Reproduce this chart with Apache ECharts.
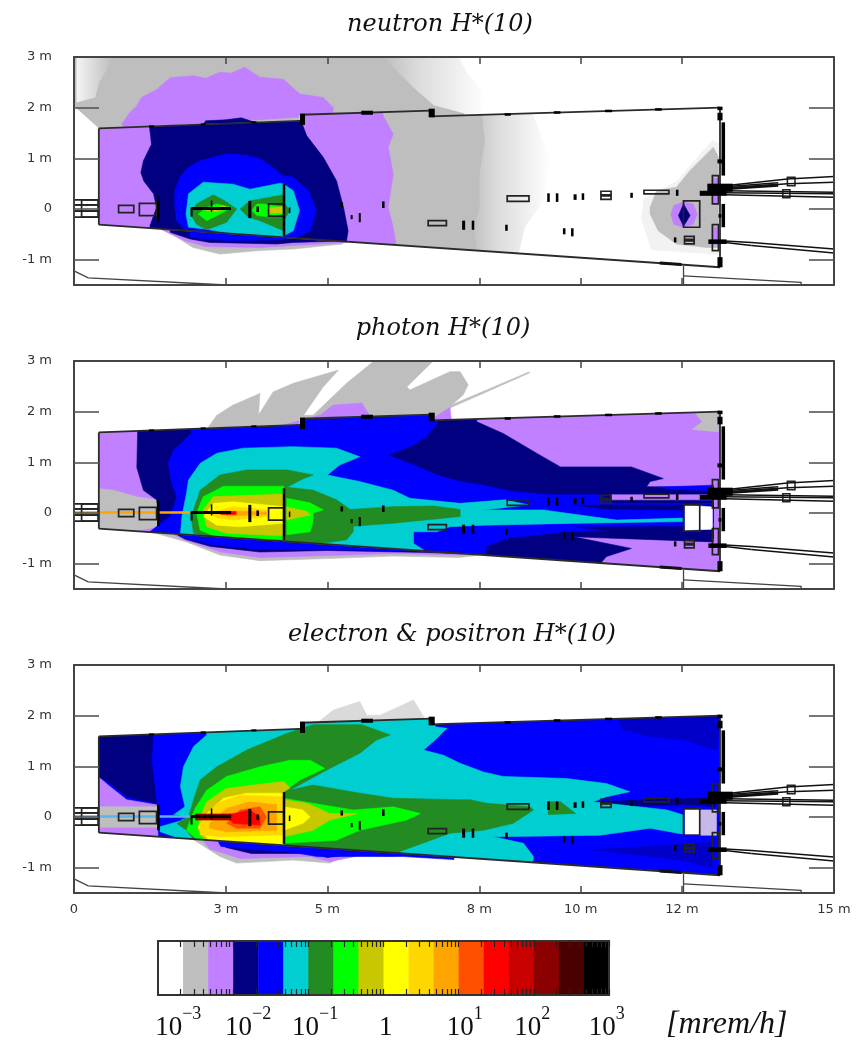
<!DOCTYPE html>
<html><head><meta charset="utf-8">
<style>html,body{margin:0;padding:0;background:#fff}#c{width:861px;height:1041px;filter:blur(0.45px)}</style>
<script src="https://cdn.jsdelivr.net/npm/echarts@6/dist/echarts.min.js"></script>
</head><body><div id="c"></div>
<script>
// ---- colour scale -------------------------------------------------------
const barColors=['#ffffff','#bebebe','#c080ff','#000080','#0000ff','#00ced1','#228b22','#00ff00','#c8c800','#ffff00','#ffd700','#ffa500','#ff5000','#ff0000','#c80000','#8b0000','#4b0000','#000000'];
const barDecades=[-3,-2,-1,0,1,2];
const barMinor=[2,3,4,5,6,7,8,9,10];
const barLabelCentres=[-2.73,-1.8,-0.91,0.03,1.08,1.98,2.97];
const barLabelBase=['10','10','10','1','10','10','10'];
const barLabelExp=['\u22123','\u22122','\u22121','','1','2','3'];
const W='#ffffff',G='#bebebe',LG='#dadada',VL='#f2f2f2',P='#c080ff',N='#000080',B='#0000ff',C='#00ced1',F='#228b22',L='#00ff00',O='#c8c800',Y='#ffff00',Au='#ffd700',Or='#ffa500',OR='#ff5000',R='#ff0000',DR='#a00000';
// soft fades stand for the speckled low-count fringes
const fadeRight={type:'linear',x:0,y:0,x2:1,y2:0,colorStops:[{offset:0,color:'#bebebe'},{offset:0.35,color:'#dcdcdc'},{offset:1,color:'#ffffff'}]};
const fadeLeft={type:'linear',x:0,y:0,x2:1,y2:0,colorStops:[{offset:0,color:'#f4f4f4'},{offset:1,color:'#bebebe'}]};

// ---- axis ticks ---------------------------------------------------------
const xTicks=[0,3,5,8,10,12,15];
const yLabels=[3,2,1,0,-1];
const yTicks=[2,1,0,-1];
const titles=['neutron H*(10)','photon H*(10)','electron & positron H*(10)'];

// ---- room outline (metres) ----------------------------------------------
const room=[[0.49,1.59],[4.46,1.74],[4.46,1.86],[7.03,1.94],[7.03,1.83],[12.75,2.0],[12.75,-1.15],[0.49,-0.31]];

// ---- neutron dose contours (metres) -------------------------------------
const neutronOutside=[
[G,[[0,3],[6.3,3],[6.6,2.7],[6.95,2.4],[7.25,2.15],[7.7,1.9],[7.7,1.7],[0.49,1.5],[0.49,1.6],[0,2.04]]],
[fadeLeft,[[0.05,2.98],[0.75,2.98],[0.65,2.75],[0.5,2.5],[0.42,2.2],[0.05,2.1]]],
[fadeRight,[[6.1,3],[7.6,3],[7.75,2.7],[8.0,2.4],[8.15,2.1],[7.95,1.82],[7.1,2.05],[6.7,2.4],[6.4,2.7]]],
[P,[[0.94,1.68],[1.1,1.9],[1.24,2.04],[1.33,2.2],[1.62,2.35],[1.9,2.59],[2.36,2.63],[2.6,2.58],[2.88,2.7],[3.1,2.68],[3.37,2.8],[3.67,2.6],[4.13,2.56],[4.46,2.27],[4.92,2.2],[5.12,2.0],[5.1,1.85],[1,1.6]]],
[N,[[2.5,1.6],[2.6,1.74],[3.0,1.76],[3.3,1.8],[3.6,1.7]]],
[G,[[1.7,-0.3],[1.7,-0.39],[2.03,-0.56],[2.35,-0.76],[2.88,-0.89],[3.67,-0.82],[4.33,-0.79],[5.3,-0.69],[5.3,-0.5]]],
[P,[[1.7,-0.3],[1.7,-0.39],[2.2,-0.63],[2.6,-0.74],[3.67,-0.76],[4.33,-0.72],[5.4,-0.66],[5.4,-0.5]]],
[N,[[1.9,-0.3],[1.9,-0.46],[2.29,-0.59],[2.68,-0.66],[4.0,-0.69],[4.33,-0.66],[5.3,-0.63],[5.3,-0.5]]],
[B,[[2.29,-0.4],[2.29,-0.56],[3.0,-0.62],[4.0,-0.61],[4.3,-0.58],[4.3,-0.5]]]
];
const neutronRoom=[
[fadeRight,[[7.9,2.2],[8.93,2.2],[9.4,1.0],[9.3,0.2],[8.9,-0.36],[8.7,-1.2],[7.8,-1.2]]],
[G,[[0.4,2.2],[8.05,2.2],[8.05,1.8],[8.1,1.35],[8.0,0.69],[8.0,0.03],[7.88,-0.36],[8.0,-1.2],[0.4,-1.2]]],
[P,[[0.4,2.2],[6.1,2.2],[6.1,1.84],[6.3,1.48],[6.2,1.22],[6.3,0.69],[6.2,0.03],[6.3,-0.36],[6.44,-1.2],[0.4,-1.2]]],
[N,[[1.47,1.8],[4.46,1.8],[4.59,1.45],[4.92,1.02],[5.18,0.56],[5.32,0.03],[5.41,-0.43],[5.32,-1],[1.5,-1],[1.5,-0.33],[1.63,0.03],[1.57,0.3],[1.38,0.55],[1.32,0.72],[1.37,0.95],[1.53,1.28]]],
[B,[[1.99,0.03],[1.99,0.36],[2.09,0.63],[2.25,0.82],[2.49,0.95],[3.01,1.09],[3.4,1.06],[3.67,0.99],[3.95,0.8],[4.1,0.66],[4.33,0.63],[4.63,0.36],[4.78,-0.03],[4.66,-0.43],[4.33,-0.59],[4.0,-0.63],[2.68,-0.59],[2.22,-0.43],[2.03,-0.23]]],
[C,[[2.21,-0.1],[2.26,0.3],[2.55,0.53],[3.14,0.49],[3.47,0.39],[4.07,0.51],[4.14,0.49],[4.33,0.36],[4.45,-0.03],[4.33,-0.43],[4.14,-0.53],[4.1,-0.6],[3.54,-0.56],[2.55,-0.39],[2.26,-0.36]]],
[F,[[2.3,-0.1],[2.42,0.1],[2.75,0.28],[2.98,0.16],[3.21,0],[3.01,-0.26],[2.62,-0.41],[2.42,-0.3]]],
[F,[[3.28,0],[3.47,0.16],[4.13,0.28],[4.14,-0.43],[3.67,-0.23],[3.44,-0.16]]],
[F,[[4.14,0.13],[4.26,-0.03],[4.14,-0.23]]],
[L,[[2.45,-0.1],[2.62,0.03],[2.82,0.1],[3.11,0.03],[2.88,-0.1],[2.62,-0.23]]],
[L,[[3.51,-0.03],[3.61,0.1],[3.74,0.1],[3.93,0.07],[4.13,0.03],[4.13,-0.1],[3.87,-0.16],[3.61,-0.13]]],
[O,[[2.6,-0.03],[2.95,0.06],[3.05,0.01],[2.8,-0.05]]],
[O,[[3.85,0.02],[4.12,0.05],[4.12,-0.08],[3.85,-0.08]]],
[VL,[[11.25,0.2],[11.9,0.55],[12.2,0.9],[12.6,1.35],[12.72,1.3],[12.72,-0.9],[11.4,-0.8],[11.2,-0.2]]],
[G,[[11.37,0.03],[11.5,0.36],[11.89,0.43],[12.16,0.76],[12.62,1.22],[12.72,1.02],[12.72,-0.76],[12.49,-0.76],[11.89,-0.69],[11.53,-0.43],[11.37,-0.1]]],
[P,[[11.78,-0.11],[11.84,0.07],[12.03,0.14],[12.22,0.1],[12.3,-0.1],[12.22,-0.3],[12.03,-0.36],[11.84,-0.3]]],
[N,[[12.03,0.1],[12.16,-0.13],[12.03,-0.34],[11.93,-0.13]]],
[P,[[12.6,0.6],[12.7,0.6],[12.7,0.1],[12.6,0.1]]],
[P,[[12.6,-0.36],[12.7,-0.36],[12.7,-0.7],[12.6,-0.7]]]
];

// ---- photon dose contours (metres) --------------------------------------
const photonOutside=[
[G,[[2.65,1.6],[2.65,1.69],[2.82,1.93],[3.14,2.13],[3.67,2.36],[3.64,1.93],[3.93,2.39],[4.33,2.56],[5.22,2.82],[4.92,2.49],[4.53,1.93],[4.72,1.93],[5.38,2.56],[5.92,3],[7.09,3],[6.57,2.49],[6.63,2.43],[7.42,2.79],[7.62,2.79],[7.78,2.53],[7.68,2.33],[7.42,2.1],[7.4,1.8]]],
[G,[[7.42,2.07],[9.0,2.77],[8.97,2.78],[7.42,2.12]]],
[P,[[4.0,1.7],[4.85,1.93],[5.12,2.13],[5.68,2.17],[5.85,1.9]]],
[P,[[7.05,1.85],[7.42,2.08],[7.45,1.8]]],
[G,[[1.5,-0.3],[1.5,-0.37],[2.22,-0.57],[2.88,-0.83],[3.67,-0.94],[5.0,-0.9],[6.3,-0.85],[7.6,-0.88],[7.95,-0.84],[7.95,-0.7]]],
[P,[[1.7,-0.3],[2.22,-0.55],[2.9,-0.77],[3.67,-0.88],[5.0,-0.84],[6.3,-0.8],[7.6,-0.83],[7.9,-0.83],[7.9,-0.7]]],
[N,[[1.8,-0.3],[2.2,-0.52],[2.7,-0.66],[3.67,-0.77],[5,-0.74],[7,-0.78],[7.5,-0.8],[7.5,-0.7]]],
[B,[[1.9,-0.3],[2.1,-0.46],[2.7,-0.62],[3.67,-0.72],[5,-0.72],[7,-0.76],[7,-0.6]]]
];
const photonRoom=[
[P,[[0.4,2.2],[12.8,2.2],[12.8,-1.3],[0.4,-1.3]]],
[G,[[12.2,2.05],[12.72,2.05],[12.72,1.6],[12.2,1.65],[12.4,1.8]]],
[G,[[0.4,0.49],[0.78,0.45],[1.24,0.32],[1.63,0.26],[1.66,-0.27],[1.3,-0.34],[0.4,-0.4]]],
[N,[[1.27,2.2],[7.95,2.2],[7.95,1.8],[8.47,1.57],[9.13,1.18],[9.6,0.91],[11.0,0.91],[11.63,0.68],[11.37,0.62],[11.3,0.52],[12.62,0.51],[12.62,-0.57],[9.86,-0.47],[11.0,-0.7],[10.51,-0.86],[10.42,-0.96],[10.4,-1.3],[1.5,-1.0],[1.5,-0.37],[1.7,-0.3],[1.63,0.26],[1.37,0.45],[1.24,0.9]]],
[P,[[10.6,0.36],[12.6,0.36],[12.6,0.26],[10.6,0.26]]],
[B,[[11.5,0.51],[12.62,0.55],[12.62,0.44],[11.8,0.47]]],
[B,[[2.32,1.57],[2.32,2.2],[7.19,2.2],[7.19,1.8],[6.96,1.51],[6.7,1.34],[6.2,1.14],[6.7,0.95],[7.16,0.75],[7.62,0.62],[8.08,0.55],[8.67,0.42],[9.4,0.36],[10.38,0.36],[10.64,0.19],[12.62,0.19],[12.62,-0.2],[12.03,-0.34],[10.97,-0.27],[10.05,-0.37],[9.66,-0.37],[8.54,-0.5],[8.14,-0.66],[8.08,-1.2],[1.5,-1],[1.5,-0.37],[1.66,-0.24],[1.9,-0.07],[2.03,0.32],[1.93,0.59],[1.86,0.98],[1.96,1.24]]],
[N,[[9.85,0.16],[12.62,0.16],[12.62,0.05],[10.5,0.08]]],
[N,[[9.9,-0.28],[12.62,-0.26],[12.62,-0.5],[11,-0.38]]],
[C,[[2.22,0.39],[2.26,0.65],[2.49,0.98],[2.82,1.18],[3.34,1.28],[4.33,1.31],[5.18,1.28],[5.64,1.11],[5.25,0.95],[5.0,0.75],[5.64,0.62],[6.3,0.45],[6.63,0.29],[7.62,0.19],[8.51,0.26],[8.97,0.16],[8.08,0.06],[9.26,0.06],[10.71,-0.14],[12.03,-0.1],[12.03,-0.17],[10.05,-0.2],[8.08,-0.24],[7.42,-0.27],[7.16,-0.37],[6.7,-0.37],[6.7,-0.6],[6.9,-0.73],[6.3,-0.8],[4,-0.62],[2.5,-0.52],[2.1,-0.42],[2.13,-0.07]]],
[F,[[2.36,0.06],[2.49,0.45],[2.88,0.75],[3.41,0.85],[4.2,0.85],[4.72,0.75],[4.53,0.68],[4.2,0.51],[4.72,0.45],[5.18,0.26],[5.45,0.07],[6.3,0.125],[7.09,0.14],[7.62,0.07],[7.62,-0.07],[6.3,-0.2],[5.51,-0.26],[5.51,-0.37],[5.38,-0.53],[4.86,-0.6],[4.2,-0.57],[2.68,-0.47],[2.36,-0.4],[2.32,-0.14]]],
[L,[[2.42,0],[2.55,0.32],[2.95,0.53],[4.14,0.53],[4.14,-0.53],[2.88,-0.5],[2.49,-0.34]]],
[L,[[4.2,0.29],[4.66,0.2],[4.92,0.06],[4.72,0],[4.72,-0.17],[4.66,-0.37],[4.2,-0.43]]],
[O,[[2.55,0.06],[2.75,0.32],[4.14,0.375],[4.14,-0.45],[3.01,-0.4],[2.62,-0.27]]],
[O,[[4.2,0.12],[4.6,0.03],[4.66,-0.04],[4.2,-0.14]]],
[Y,[[2.55,-0.07],[2.75,0.19],[3.14,0.22],[4.14,0.125],[4.14,-0.2],[3.28,-0.27],[2.82,-0.24]]],
[Au,[[2.68,0],[3.14,0.125],[3.8,0.06],[3.8,-0.07],[3.14,-0.14],[2.82,-0.1]]],
[Or,[[3.0,0.04],[3.8,0.02],[3.8,-0.03],[3.0,-0.06]]],
[R,[[2.9,0.03],[3.2,0.03],[3.2,-0.03],[2.9,-0.03]]],
[W,[[12.06,0.16],[12.6,0.12],[12.6,-0.32],[12.06,-0.34]]]
];

// ---- electron & positron dose contours (metres) --------------------------
const electronOutside=[
[LG,[[4.79,1.85],[5.12,2.11],[5.64,2.28],[5.78,2.01],[6.04,2.01],[6.7,2.31],[6.9,1.98],[6.9,1.85]]],
[G,[[2.36,-0.4],[2.36,-0.45],[2.88,-0.78],[3.21,-0.91],[4.33,-0.85],[5.05,-0.91],[5.4,-0.75],[5.4,-0.6]]],
[P,[[2.5,-0.4],[2.68,-0.63],[3.28,-0.82],[4.66,-0.78],[5.05,-0.88],[5.7,-0.75],[6.3,-0.78],[6.3,-0.6]]],
[N,[[2.8,-0.4],[3.0,-0.6],[3.5,-0.72],[4.66,-0.72],[5.0,-0.8],[5.6,-0.72],[5.6,-0.6]]],
[B,[[2.8,-0.4],[2.9,-0.58],[3.67,-0.65],[4.33,-0.7],[4.8,-0.78],[6.5,-0.78],[7.5,-0.84],[7.5,-0.7]]]
];
const electronRoom=[
[B,[[0.4,2.2],[12.8,2.2],[12.8,-1.3],[0.4,-1.3]]],
[N,[[0.4,1.8],[1.57,1.8],[1.53,1.12],[1.63,0.27],[1.04,0.4],[0.71,0.66],[0.4,0.86]]],
[P,[[0.4,0.86],[0.71,0.6],[1.04,0.34],[1.63,0.24],[1.66,-0.4],[0.4,-0.4]]],
[G,[[0.4,0.2],[1.66,0.2],[1.66,-0.2],[0.4,-0.2]]],
['#0000c8',[[10.71,1.95],[12.8,2.1],[12.68,1.32],[12.03,1.52],[11.37,1.59],[10.84,1.72]]],
['#0000c8',[[10.2,-0.65],[12.6,-0.5],[12.6,-1.0],[12.0,-0.85]]],
[N,[[10.25,0.3],[12.62,0.38],[12.62,0.25],[10.4,0.2]]],
[N,[[12.2,0.34],[12.66,0.26],[12.66,0.2],[12.2,0.24]]],
['#c8b8e8',[[12.35,0.14],[12.68,0.14],[12.68,-0.36],[12.35,-0.36]]],
[C,[[2.62,1.62],[2.62,2.2],[7.1,2.2],[7.13,1.78],[7.36,1.75],[7.16,1.55],[6.9,1.32],[7.29,1.22],[7.62,1.06],[8.08,0.89],[8.47,0.8],[9.72,0.76],[10.51,0.66],[10.97,0.5],[10.51,0.4],[10.25,0.3],[11.7,0.14],[12.03,0.04],[12.03,-0.34],[11.37,-0.22],[10.38,-0.36],[8.28,-0.39],[8.87,-0.52],[9.07,-0.78],[9.0,-1.2],[2.6,-1.2],[2.3,-0.6],[2.16,-0.45],[1.7,-0.29],[1.7,-0.19],[2.16,-0.06],[1.96,0.04],[2.19,0.2],[2.1,0.6],[2.16,0.99],[2.36,1.39]]],
[B,[[1.7,0.08],[2.1,0.02],[2.2,-0.02],[1.7,-0.12]]],
[F,[[2.36,0.34],[2.49,0.73],[2.82,0.99],[3.41,1.32],[4.2,1.65],[4.72,1.82],[5.68,1.82],[6.24,1.62],[5.97,1.52],[5.64,1.26],[4.99,0.93],[4.26,0.53],[4.72,0.63],[5.64,0.47],[6.3,0.37],[7.62,0.34],[7.82,0.34],[8.14,0.27],[9.0,0.2],[9.07,0.14],[8.67,-0.125],[8.08,-0.26],[7.42,-0.32],[6.43,-0.68],[6.4,-1],[4.2,-0.8],[2.36,-0.45],[2.22,-0.26],[2.03,-0.13],[2.26,0]]],
[F,[[9.36,0.3],[9.6,0.3],[9.9,0.07],[9.36,0.05]]],
[L,[[2.39,0.17],[2.62,0.53],[3.01,0.8],[3.67,0.99],[4.26,1.12],[4.66,1.12],[4.95,0.96],[4.46,0.73],[4.14,0.5],[4.14,-0.57],[2.49,-0.5],[2.22,-0.26],[2.3,-0.05]]],
[L,[[4.14,0.37],[4.72,0.27],[5.51,0.14],[6.3,0.2],[6.84,0.07],[6.57,-0.06],[5.64,-0.26],[5.18,-0.46],[4.14,-0.52]]],
[O,[[2.49,0],[2.62,0.3],[3.0,0.56],[3.54,0.63],[4.14,0.7],[4.26,0.57],[4.14,0.5],[4.14,-0.55],[2.6,-0.48],[2.45,-0.25]]],
[O,[[4.14,0.34],[4.6,0.27],[5.05,0.07],[5.6,0.07],[5.05,-0.06],[4.72,-0.26],[4.14,-0.39]]],
[Y,[[2.45,-0.2],[2.6,0.05],[2.95,0.37],[3.4,0.47],[4.14,0.47],[4.14,-0.55],[2.7,-0.5]]],
[Y,[[4.14,0.2],[4.52,0.14],[4.66,0],[4.52,-0.125],[4.14,-0.26]]],
[Au,[[2.49,-0.125],[2.82,0.27],[3.28,0.43],[4.14,0.4],[4.14,-0.355],[2.88,-0.39],[2.49,-0.355]]],
[Or,[[2.68,-0.125],[3.01,0.17],[3.47,0.3],[4.0,0.24],[4.0,-0.26],[3.01,-0.29],[2.68,-0.22]]],
[OR,[[3.01,-0.125],[3.28,0.14],[3.67,0.2],[3.8,0],[3.67,-0.22],[3.21,-0.22]]],
[R,[[3.01,0.04],[3.47,0.14],[3.67,0],[3.67,-0.16],[3.14,-0.125]]],
[DR,[[2.4,0.06],[3.1,0.06],[3.1,-0.06],[2.4,-0.06]]],
[W,[[12.06,0.16],[12.35,0.16],[12.35,-0.34],[12.06,-0.34]]]
];
const fieldsOutside=[neutronOutside,photonOutside,electronOutside];
const fieldsRoom=[neutronRoom,photonRoom,electronRoom];
const beamStreak=[null,[[0,0.01],[2.3,0.01]],[[0,0.01],[2.3,0.01]]];
const beamColor=[null,'#ffa500','#5ab4e6'];

// ---- apparatus drawn in all three panels (metres) ------------------------
const blackBlocks=[[1.64,0.25,1.69,-0.26],[3.44,0.16,3.5,-0.18],[3.6,0.05,3.65,-0.06],[4.12,0.49,4.17,-0.53],[4.24,0.03,4.27,-0.08],[5.26,0.13,5.31,0.03],[5.46,-0.12,5.5,-0.2],[5.62,-0.08,5.66,-0.26],[6.08,0.15,6.13,0.02],[2.32,0.04,3.1,-0.02],[2.7,0.17,2.73,-0.05],[2.3,0.03,2.34,-0.15],[9.34,0.31,9.39,0.14],[9.51,0.31,9.56,0.14],[9.86,0.29,9.92,0.18],[10.02,0.31,10.07,0.18],[10.98,0.32,11.03,0.22],[11.88,0.38,11.93,0.26],[12.35,0.36,12.88,0.26],[7.66,-0.23,7.72,-0.41],[7.85,-0.23,7.9,-0.41],[8.51,-0.31,8.56,-0.43],[9.65,-0.38,9.7,-0.5],[9.81,-0.38,9.86,-0.54],[11.84,-0.56,11.89,-0.66],[12.52,-0.6,12.88,-0.69],[1.48,1.65,1.58,1.61],[2.5,1.69,2.6,1.65],[3.5,1.73,3.6,1.69],[4.46,1.88,4.56,1.66],[5.67,1.94,5.9,1.86],[7.0,1.98,7.12,1.81],[8.5,1.89,8.62,1.84],[9.47,1.93,9.6,1.88],[10.48,1.96,10.62,1.91],[11.47,1.99,11.6,1.94],[12.7,2.02,12.8,1.95],[12.78,1.71,12.85,0.66],[12.78,0.1,12.85,-0.36],[12.7,1.9,12.8,1.75],[12.7,0.98,12.8,0.9],[12.72,-0.1,12.78,-0.17],[12.7,-0.95,12.8,-1.15],[12.5,0.5,13.0,0.34]];
const outlineRects=[[0.88,0.07,1.18,-0.07],[1.29,0.11,1.63,-0.13],[3.84,0.1,4.14,-0.14],[6.99,-0.23,7.35,-0.33],[8.55,0.26,8.98,0.15],[10.4,0.35,10.6,0.28],[10.4,0.26,10.6,0.19],[11.25,0.37,11.74,0.3],[12.05,-0.54,12.24,-0.6],[12.05,-0.63,12.24,-0.69],[12.6,0.66,12.72,0.1],[12.6,-0.31,12.72,-0.82],[12.03,0.16,12.35,-0.36],[0,0.18,0.48,0.08],[0,0.08,0.48,-0.04],[0,-0.04,0.48,-0.16],[0.15,0.18,0.48,-0.16]];
const pipeBoxes=[[14.08,0.625,14.23,0.46],[13.99,0.38,14.13,0.22]];
const wallLines=[
[[0.49,1.59],[4.46,1.74]],[[4.46,1.86],[7.03,1.94]],[[7.03,1.83],[12.75,2.0]],
[[12.75,2.0],[12.75,-1.15]],[[12.75,-1.15],[0.49,-0.31]],[[0.49,-0.31],[0.49,1.59]]];
const pipeLines=[
[[12.85,0.46],[14.08,0.59],[15,0.64]],[[12.85,0.41],[14.08,0.5],[15,0.53]],[[12.85,0.36],[15,0.33]],[[12.85,0.28],[15,0.23]],[[12.85,0.32],[15,0.3]],
[[12.85,0.44],[13.9,0.52]],[[12.85,-0.63],[13.37,-0.66],[15,-0.79]],[[13.37,-0.72],[15,-0.87]],[[12.85,-0.66],[13.37,-0.72]]];
const thickLines=[[[11.56,-1.067],[11.99,-1.097]],[[12.85,0.4],[13.9,0.47]]];
const floorLines=[[[0,-1.22],[0.28,-1.36],[3.01,-1.5]],[[12.03,-1.12],[12.03,-1.5]],[[12.03,-1.32],[14.35,-1.45],[14.35,-1.5]]];

// ---- page layout --------------------------------------------------------
const panelTops=[57,361,665];
const panelH=228, left=74, right=27;
const titleX=[435,438,447], titleY=[8,312,618];
const labelFont='DejaVu Sans';

function pts(api,poly){return poly.map(p=>api.coord(p));}
function polyEl(api,poly,color,clip){
  const isFade=typeof color!=='string';
  const el={type:'polygon',shape:{points:pts(api,poly)},style:isFade?{fill:color}:{fill:color,stroke:color,lineWidth:0.6}};
  if(clip) el.clipPath={type:'polygon',shape:{points:pts(api,room)}};
  return el;
}
function rectPoly(r){return [[r[0],r[1]],[r[2],r[1]],[r[2],r[3]],[r[0],r[3]]];}
function lineEl(api,line,color,w){return {type:'polyline',shape:{points:pts(api,line)},style:{fill:null,stroke:color,lineWidth:w}};}

const grid=[],xAxis=[],yAxis=[],series=[],title=[];
panelTops.forEach((top,i)=>{
  grid.push({left,right,top,height:panelH});
  const ax={min:0,max:15,type:'value',gridIndex:i,z:5,splitLine:{show:false},
    axisLine:{show:true,lineStyle:{color:'#444',width:2},onZero:false},
    axisTick:{show:true,inside:true,length:7,customValues:xTicks,lineStyle:{color:'#444',width:1.5}}};
  xAxis.push(Object.assign({},ax,{position:'bottom',axisLabel:{show:i===2,customValues:xTicks,margin:10,fontFamily:labelFont,fontSize:13,color:'#333',hideOverlap:false,formatter:v=>v===0?'0':v+' m'}}));
  xAxis.push(Object.assign({},ax,{position:'top',axisLabel:{show:false}}));
  const ay={min:-1.5,max:3,type:'value',gridIndex:i,z:5,splitLine:{show:false},
    axisLine:{show:true,lineStyle:{color:'#444',width:2},onZero:false},
    axisTick:{show:true,inside:true,length:25,customValues:yTicks,lineStyle:{color:'#555',width:1.6}}};
  yAxis.push(Object.assign({},ay,{position:'left',axisLabel:{show:true,customValues:yLabels,margin:22,fontFamily:labelFont,fontSize:13,color:'#333',formatter:v=>v===0?'0':v+' m'}}));
  yAxis.push(Object.assign({},ay,{position:'right',axisLabel:{show:false}}));
  title.push({text:titles[i],left:titleX[i],top:titleY[i],textAlign:'center',textStyle:{fontFamily:'DejaVu Serif',fontStyle:'italic',fontWeight:'normal',fontSize:24,color:'#111'}});
  const layers=[].concat(
    fieldsOutside[i].map(l=>({c:l[0],p:l[1],clip:false})),
    [{c:'#ffffff',p:room,clip:false}],
    fieldsRoom[i].map(l=>({c:l[0],p:l[1],clip:true})));
  series.push({type:'custom',xAxisIndex:i*2,yAxisIndex:i*2,coordinateSystem:'cartesian2d',silent:true,z:2,animation:false,
    data:layers.map(()=>[0,0]),
    renderItem(params,api){const l=layers[params.dataIndex];return polyEl(api,l.p,l.c,l.clip);}});
  const marks=[].concat(
    beamStreak[i]?[{k:'l',p:beamStreak[i],c:beamColor[i],w:2.5}]:[],
    pipeBoxes.map(r=>({k:'f',p:rectPoly(r),c:'#ffffff',s:'#222'})),
    outlineRects.map(r=>({k:'o',p:rectPoly(r),c:'#222'})),
    wallLines.map(l=>({k:'l',p:l,c:'#2a2a2a',w:1.8})),
    pipeLines.map(l=>({k:'l',p:l,c:'#111',w:1.5})),
    thickLines.map(l=>({k:'l',p:l,c:'#111',w:3})),
    floorLines.map(l=>({k:'l',p:l,c:'#444',w:1.3})),
    blackBlocks.map(r=>({k:'b',p:rectPoly(r),c:'#000'})));
  series.push({type:'custom',xAxisIndex:i*2,yAxisIndex:i*2,coordinateSystem:'cartesian2d',silent:true,z:3,animation:false,
    data:marks.map(()=>[0,0]),
    renderItem(params,api){
      const m=marks[params.dataIndex];
      if(m.k==='l') return lineEl(api,m.p,m.c,m.w);
      if(m.k==='b') return {type:'polygon',shape:{points:pts(api,m.p)},style:{fill:m.c}};
      if(m.k==='f') return {type:'polygon',shape:{points:pts(api,m.p)},style:{fill:m.c,stroke:m.s,lineWidth:1.5}};
      return {type:'polygon',shape:{points:pts(api,m.p)},style:{fill:null,stroke:m.c,lineWidth:1.7}};
    }});
});

// colour bar
const minorTicks=[];
barDecades.forEach(d=>barMinor.forEach(k=>minorTicks.push(d+Math.log10(k))));
grid.push({left:158,width:451,top:941,height:54});
const barAxis={type:'value',min:-3,max:3,gridIndex:3,z:5,splitLine:{show:false},axisLabel:{show:false},
  axisLine:{show:true,onZero:false,lineStyle:{color:'#333',width:2}},
  axisTick:{show:true,inside:true,length:6,customValues:minorTicks,lineStyle:{color:'#222',width:1.2}}};
xAxis.push(Object.assign({},barAxis,{position:'bottom'}),Object.assign({},barAxis,{position:'top'}));
const barY={type:'value',min:0,max:1,gridIndex:3,z:5,axisLabel:{show:false},axisTick:{show:false},splitLine:{show:false},axisLine:{show:true,onZero:false,lineStyle:{color:'#333',width:2}}};
yAxis.push(Object.assign({},barY,{position:'left'}),Object.assign({},barY,{position:'right'}));
series.push({type:'custom',xAxisIndex:6,yAxisIndex:6,coordinateSystem:'cartesian2d',silent:true,animation:false,
  data:barColors.map((c,i)=>[i,0]),
  renderItem(params,api){
    const i=params.dataIndex,a=api.coord([-3+i/3,1]),b=api.coord([-3+(i+1)/3,0]);
    return {type:'rect',shape:{x:a[0],y:a[1],width:b[0]-a[0]+0.5,height:b[1]-a[1]},style:{fill:barColors[i]}};
  }});
series.push({type:'custom',xAxisIndex:6,yAxisIndex:6,coordinateSystem:'cartesian2d',silent:true,animation:false,clip:false,
  data:barLabelCentres.map((c,i)=>[c,0]),
  renderItem(params,api){
    const i=params.dataIndex,p=api.coord([barLabelCentres[i],0]);
    const ex=barLabelExp[i];
    return {type:'text',x:p[0],y:p[1]+28,style:{
      text:ex?'{b|'+barLabelBase[i]+'}{e|'+ex+'}':'{b|'+barLabelBase[i]+'}',
      textAlign:'center',textVerticalAlign:'middle',
      rich:{b:{fontFamily:'Liberation Serif',fontSize:27,lineHeight:36,verticalAlign:'bottom',fill:'#111'},
            e:{fontFamily:'Liberation Serif',fontSize:18,lineHeight:36,verticalAlign:'top',fill:'#111'}}}};
  }});

const chart=echarts.init(document.getElementById('c'),null,{renderer:'canvas'});
chart.setOption({animation:false,backgroundColor:'#fff',title,grid,xAxis,yAxis,series,
  graphic:[{type:'text',left:666,top:1009,style:{text:'[mrem/h]',fontFamily:'Liberation Serif',fontStyle:'italic',fontSize:32,fill:'#111'}}]});
</script></body></html>
